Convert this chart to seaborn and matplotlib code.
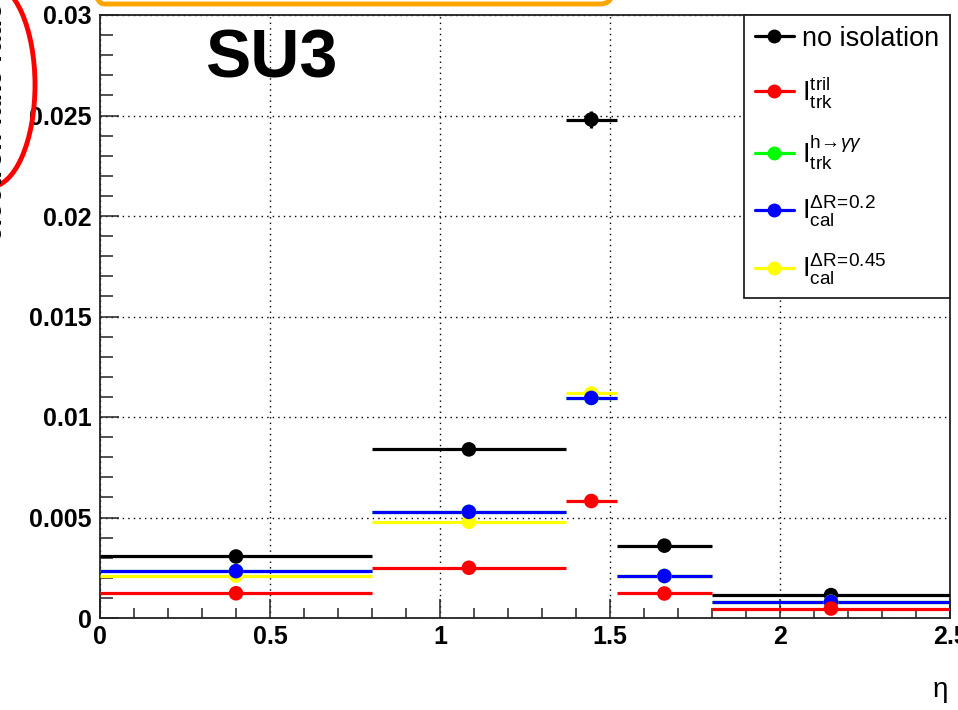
import numpy as np
import pandas as pd
import matplotlib
matplotlib.use("Agg")
import matplotlib.pyplot as plt
import matplotlib.transforms as mtrans
import seaborn as sns
from matplotlib.lines import Line2D
from matplotlib.patches import Ellipse, FancyBboxPatch
from matplotlib.ticker import MultipleLocator, FuncFormatter

## data
eta_edges = [0.0, 0.8, 1.37, 1.52, 1.8, 2.5]
no_iso = [0.00306, 0.00839, 0.0248, 0.00360, 0.00114]
no_iso_err = [0.0001, 0.0001, 0.0004, 0.0001, 0.0001]
trk_tril = [0.00123, 0.00250, 0.00582, 0.00122, 0.00047]
trk_hgg = [0.00233, 0.00528, 0.01095, 0.00209, 0.00080]
cal_02 = [0.00233, 0.00528, 0.01095, 0.00209, 0.00080]
cal_045 = [0.00211, 0.00479, 0.01117, 0.00209, 0.00080]
small_err = [0.0001] * 5

names = ["no isolation",
         r"$\mathrm{I}_{\mathrm{trk}}^{\mathrm{tril}}$",
         r"$\mathrm{I}_{\mathrm{trk}}^{\mathrm{h}\!\rightarrow\!\gamma\gamma}$",
         r"$\mathrm{I}_{\mathrm{cal}}^{\Delta\mathrm{R}\!=\!\mathrm{0.2}}$",
         r"$\mathrm{I}_{\mathrm{cal}}^{\Delta\mathrm{R}\!=\!\mathrm{0.45}}$"]
colors = ["black", "#ff0000", "#00ff00", "#0000ff", "#ffff00"]
values = [no_iso, trk_tril, trk_hgg, cal_02, cal_045]
errors = [no_iso_err, small_err, small_err, small_err, small_err]
draw_order = [0, 2, 4, 3, 1]   # blue over yellow and green, as in the picture

edges = np.array(eta_edges)
centers = (edges[:-1] + edges[1:]) / 2
halfw = (edges[1:] - edges[:-1]) / 2

rows = []
for i in draw_order:
    for c, v in zip(centers, values[i]):
        rows.append({"eta": c, "ratio": v, "series": names[i]})
df = pd.DataFrame(rows)

sns.set_theme(style="white")
plt.rcParams["font.family"] = ["Liberation Sans", "DejaVu Sans"]
plt.rcParams["mathtext.fontset"] = "custom"
plt.rcParams["mathtext.rm"] = "Liberation Sans"
plt.rcParams["mathtext.it"] = "Liberation Sans:italic"
plt.rcParams["mathtext.bf"] = "Liberation Sans:bold"
plt.rcParams["text.color"] = "black"
plt.rcParams["xtick.color"] = "black"
plt.rcParams["ytick.color"] = "black"

fig = plt.figure(figsize=(9.58, 7.10), dpi=100)
ax = fig.add_axes([100 / 958, 1 - 618 / 710, 850 / 958, 603 / 710])

for k, i in enumerate(draw_order):
    ax.errorbar(centers, values[i], xerr=halfw, yerr=errors[i], fmt="none",
                ecolor=colors[i], elinewidth=2.3, capsize=0, zorder=3 + k)

sns.scatterplot(data=df, x="eta", y="ratio", hue="series",
                hue_order=names, palette=dict(zip(names, colors)),
                s=110, linewidth=0, legend=False, ax=ax, zorder=10)

ax.set_xlim(0, 2.5)
ax.set_ylim(0, 0.03)
ax.set_xlabel("")
ax.set_ylabel("")
ax.xaxis.set_major_locator(MultipleLocator(0.5))
ax.xaxis.set_minor_locator(MultipleLocator(0.1))
ax.yaxis.set_major_locator(MultipleLocator(0.005))
ax.yaxis.set_minor_locator(MultipleLocator(0.001))
fmt = FuncFormatter(lambda v, p: "%g" % round(v, 4))
ax.xaxis.set_major_formatter(fmt)
ax.yaxis.set_major_formatter(fmt)
ax.tick_params(which="both", direction="in", bottom=True, left=True,
               top=False, right=False, color="#222222", width=1.1)
ax.tick_params(axis="y", which="major", length=14, pad=6)
ax.tick_params(axis="y", which="minor", length=9)
ax.tick_params(axis="x", which="major", length=14, pad=5)
ax.tick_params(axis="x", which="minor", length=7)
for lab in ax.get_xticklabels() + ax.get_yticklabels():
    lab.set_fontsize(18)
    lab.set_fontweight("bold")
ax.grid(True, which="major", color="black", linestyle=(0, (1, 3)), linewidth=1)
ax.set_axisbelow(True)
for s in ax.spines.values():
    s.set_color("#222222")
    s.set_linewidth(1.3)

handles = [Line2D([0], [0], color=c, lw=2.3, marker="o", ms=9) for c in colors]
leg = ax.legend(handles, names, loc="upper right", bbox_to_anchor=(1, 1),
                borderaxespad=0, fancybox=False, frameon=True, fontsize=19.5,
                handlelength=1.45, handletextpad=0.3, labelspacing=0.82,
                borderpad=0.4)
leg.get_frame().set_edgecolor("#222222")
leg.get_frame().set_linewidth(1.3)
leg.get_frame().set_alpha(1)
leg.set_zorder(20)

fig.text(205 / 958, 1 - 78 / 710, "SU3", fontsize=49, fontweight="bold",
         ha="left", va="baseline", color="black")
fig.text(940 / 958, 1 - 690 / 710, "η", fontsize=20, ha="center", va="center")
fig.text(-5 / 958, 0.998, "electron fake ratio", rotation=90, fontsize=20,
         fontweight="bold", ha="center", va="top")

# annotation marks left on the slide
fig.add_artist(Ellipse((-10, 710 - 85), 90, 204, fill=False, ec="red", lw=3.5,
                       transform=mtrans.IdentityTransform()))
fig.add_artist(FancyBboxPatch((92, 706), 520, 60,
                              boxstyle="round,pad=0,rounding_size=12",
                              fc="none", ec="#ffa500", lw=3.5,
                              transform=mtrans.IdentityTransform()))

fig.savefig("out.png", dpi=100)
